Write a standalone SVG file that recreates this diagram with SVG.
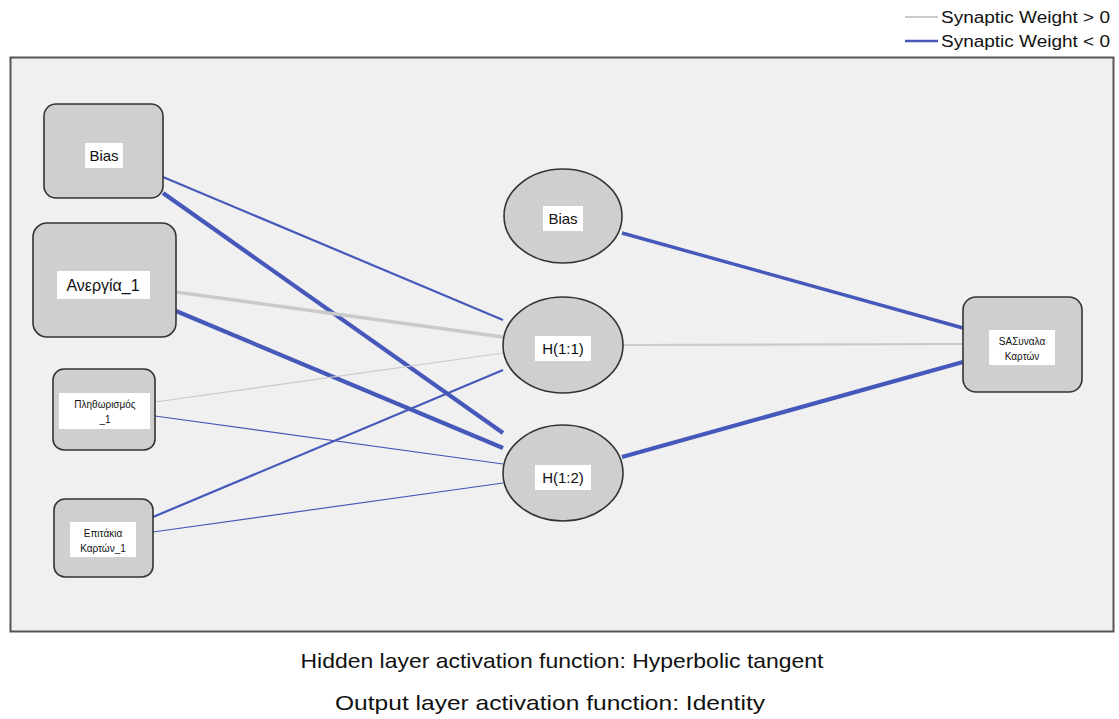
<svg xmlns="http://www.w3.org/2000/svg" width="1119" height="719" viewBox="0 0 1119 719">
  <style>
    text { font-family: "Liberation Sans", Arial, sans-serif; fill: #111; }
    .node { fill: #cfcfcf; stroke: #333; stroke-width: 1.6; }
    .lbl { fill: #ffffff; stroke: none; }
    .pos { stroke: #cacaca; fill: none; stroke-linecap: butt; }
    .neg { stroke: #4658ba; fill: none; stroke-linecap: butt; }
    .w1 { stroke-width: 1.2; }
    .w2 { stroke-width: 2.2; }
    .w3 { stroke-width: 3.4; }
    .w4 { stroke-width: 4.2; }
  </style>

  <rect x="0" y="0" width="1119" height="719" fill="#ffffff"/>

  <!-- legend -->
  <g id="legend">
    <line class="pos" x1="905" y1="17" x2="938" y2="17" stroke-width="2"/>
    <text x="941" y="23" font-size="16" textLength="169" lengthAdjust="spacingAndGlyphs">Synaptic Weight &gt; 0</text>
    <line class="neg" x1="905" y1="41" x2="938" y2="41" stroke-width="2.4"/>
    <text x="941" y="47" font-size="16" textLength="169" lengthAdjust="spacingAndGlyphs">Synaptic Weight &lt; 0</text>
  </g>

  <!-- plot panel -->
  <rect x="10.5" y="57.5" width="1103" height="574" fill="#f0f0f0" stroke="#555" stroke-width="2"/>

  <!-- connectors -->
  <g id="connectors">
    <line class="neg w2" x1="163" y1="177" x2="503" y2="320"/>
    <line class="neg w4" x1="163" y1="193" x2="503" y2="433"/>
    <line class="pos w3" x1="176" y1="292" x2="503" y2="337"/>
    <line class="neg w4" x1="176" y1="311" x2="503" y2="448"/>
    <line class="pos w1" x1="155" y1="402" x2="503" y2="353"/>
    <line class="neg w1" x1="155" y1="416" x2="503" y2="464"/>
    <line class="neg w2" x1="153" y1="517" x2="503" y2="370"/>
    <line class="neg w1" x1="153" y1="532" x2="503" y2="483"/>
    <line class="neg w3" x1="622" y1="233" x2="963" y2="328"/>
    <line class="pos w2" x1="622" y1="345" x2="963" y2="344"/>
    <line class="neg w4" x1="622" y1="457" x2="963" y2="362"/>
  </g>

  <!-- input layer -->
  <g id="in-bias">
    <rect class="node" x="44" y="104" width="119" height="94" rx="12"/>
    <rect class="lbl" x="85" y="143" width="38" height="25"/>
    <text x="104" y="161" font-size="15" text-anchor="middle">Bias</text>
  </g>
  <g id="in-anergia">
    <rect class="node" x="33" y="223" width="143" height="114" rx="14"/>
    <rect class="lbl" x="57" y="271" width="93" height="28"/>
    <text x="103" y="291" font-size="16" text-anchor="middle">Ανεργία_1</text>
  </g>
  <g id="in-plithorismos">
    <rect class="node" x="53" y="369" width="102" height="81" rx="11"/>
    <rect class="lbl" x="59" y="393" width="91" height="36"/>
    <text x="105" y="408" font-size="10" text-anchor="middle">Πληθωρισμός</text>
    <text x="105" y="423" font-size="10" text-anchor="middle">_1</text>
  </g>
  <g id="in-epitokia">
    <rect class="node" x="54" y="499" width="99" height="78" rx="11"/>
    <rect class="lbl" x="70" y="522" width="66" height="35"/>
    <text x="103" y="537" font-size="10" text-anchor="middle">Επιτάκια</text>
    <text x="103" y="552" font-size="10" text-anchor="middle">Καρτών_1</text>
  </g>

  <!-- hidden layer -->
  <g id="hid-bias">
    <ellipse class="node" cx="563" cy="216" rx="59" ry="47"/>
    <rect class="lbl" x="543" y="206" width="40" height="25"/>
    <text x="563" y="224" font-size="15" text-anchor="middle">Bias</text>
  </g>
  <g id="hid-h11">
    <ellipse class="node" cx="563" cy="345" rx="60" ry="48"/>
    <rect class="lbl" x="535" y="336" width="56" height="25"/>
    <text x="563" y="354" font-size="15" text-anchor="middle">H(1:1)</text>
  </g>
  <g id="hid-h12">
    <ellipse class="node" cx="563" cy="473" rx="60" ry="48"/>
    <rect class="lbl" x="535" y="465" width="56" height="25"/>
    <text x="563" y="483" font-size="15" text-anchor="middle">H(1:2)</text>
  </g>

  <!-- output layer -->
  <g id="out-synalla">
    <rect class="node" x="963" y="297" width="119" height="95" rx="13"/>
    <rect class="lbl" x="989" y="330" width="66" height="35"/>
    <text x="1022" y="345" font-size="10" text-anchor="middle">SAΣυναλα</text>
    <text x="1022" y="360" font-size="10" text-anchor="middle">Καρτών</text>
  </g>

  <!-- footnotes -->
  <g id="notes">
    <text x="562" y="668" font-size="21" text-anchor="middle" textLength="523" lengthAdjust="spacingAndGlyphs">Hidden layer activation function: Hyperbolic tangent</text>
    <text x="550" y="710" font-size="21" text-anchor="middle" textLength="430" lengthAdjust="spacingAndGlyphs">Output layer activation function: Identity</text>
  </g>
</svg>
